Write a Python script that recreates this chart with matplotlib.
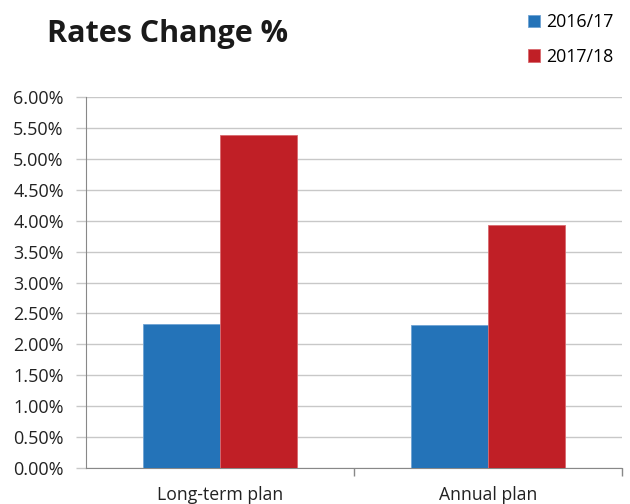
import matplotlib
matplotlib.use("Agg")
import matplotlib.pyplot as plt
from matplotlib.ticker import FuncFormatter, FixedLocator
import numpy as np

categories = ["Long-term plan", "Annual plan"]
series_names = ["2016/17", "2017/18"]
values_2016 = [2.33, 2.31]
values_2017 = [5.39, 3.93]
colors = ["#2473b8", "#c01f26"]

plt.rcParams['font.family'] = ['Open Sans', 'DejaVu Sans']

fig = plt.figure(figsize=(6.3, 5.04), dpi=100)
ax = fig.add_axes([86/630, 36/504, (622-86)/630, (468-97)/504])

x = np.arange(len(categories))
w = 0.288
b1 = ax.bar(x - w/2, values_2016, w, color=colors[0], label=series_names[0],
            edgecolor="#6fa3d3", linewidth=0.6, zorder=3)
b2 = ax.bar(x + w/2, values_2017, w, color=colors[1], label=series_names[1],
            edgecolor="#d86a6f", linewidth=0.6, zorder=3)

ax.set_xlim(-0.5, 1.5)
ax.set_ylim(0, 6)
ax.set_yticks(np.arange(0, 6.01, 0.5))
ax.yaxis.set_major_formatter(FuncFormatter(lambda v, p: f"{v:.2f}%"))
ax.yaxis.grid(True, color="#c8c8c8", linewidth=1.0, zorder=0)
ax.set_axisbelow(True)

ax.set_xticks(x)
ax.set_xticklabels(categories, fontsize=12.7, color="#222222")
ax.tick_params(axis='x', length=0, pad=13)
ax.xaxis.set_minor_locator(FixedLocator([0.5, 1.5]))
ax.tick_params(axis='x', which='minor', length=6, color="#888888", width=1)
ax.tick_params(axis='y', length=7, color="#c8c8c8", width=1, labelsize=13, labelcolor="#222222", pad=9)

for s in ["top", "right"]:
    ax.spines[s].set_visible(False)
ax.spines["left"].set_color("#888888")
ax.spines["bottom"].set_color("#888888")

fig.text(47/630, 1 - 34/504, "Rates Change %", fontsize=22, fontweight="bold",
         color="#1a1a1a", va="center", ha="left")

fig.legend(handles=[b1, b2], labels=series_names, loc="upper left",
           bbox_to_anchor=(512/630, 1 + 3/504), frameon=False, fontsize=12.8,
           handlelength=0.7, handleheight=0.7, handletextpad=0.3, labelspacing=0.95)

fig.savefig("out.png", dpi=100)
